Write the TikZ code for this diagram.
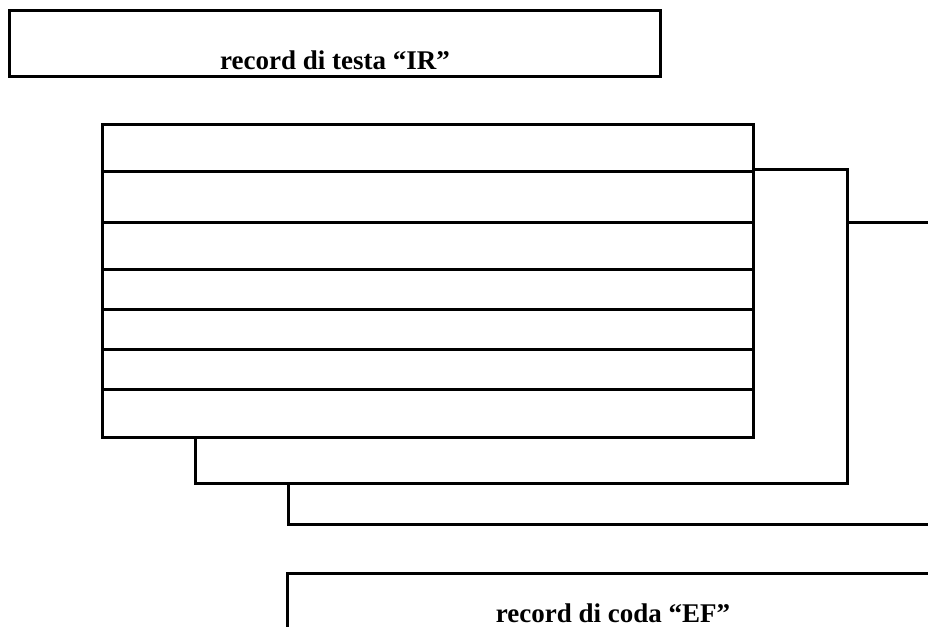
\documentclass[tikz,border=0pt]{standalone}
\usepackage{fontspec}
\setmainfont{Liberation Serif}
\usepackage{tikz}

\begin{document}
\begin{tikzpicture}[x=1pt, y=-1pt, line width=3pt,
  recbox/.style={draw, rectangle, inner sep=0pt, minimum width=651pt},
  lbl/.style={font=\fontsize{27}{32}\selectfont\bfseries, anchor=base, inner sep=0pt, text depth=0pt}]
  \useasboundingbox (0,0) rectangle (928,626);
  \clip (0,0) rectangle (928,626);

  % record di testa
  \node[recbox, minimum height=65pt] (head) at (334.5,43.5) {};
  \node[lbl] (headtxt) at (335,69) {record di testa “IR”};

  % primo blocco di record
  \node[recbox, minimum height=47pt] (r1) at (428,147.5) {};
  \node[recbox, minimum height=51pt] (r2) at (428,196.5) {};
  \node[recbox, minimum height=47pt] (r3) at (428,245.5) {};
  \node[recbox, minimum height=40pt] (r4) at (428,289) {};
  \node[recbox, minimum height=40pt] (r5) at (428,329) {};
  \node[recbox, minimum height=40pt] (r6) at (428,369) {};
  \node[recbox, minimum height=48pt] (r7) at (428,413) {};

  % blocchi successivi
  \coordinate (b2) at (195,483);
  \coordinate (b3) at (288,524);
  \draw (r2.north east) -| (847,483) -- (b2) -- (b2 |- r7.south);
  \draw (847,222) -- (940,222);
  \draw (b2 -| b3) -- (b3) -- (940,524);

  % record di coda
  \node[recbox, minimum height=70pt, anchor=north west] (tail) at (286,572) {};
  \node[lbl] (tailtxt) at (613,622) {record di coda “EF”};
\end{tikzpicture}
\end{document}
